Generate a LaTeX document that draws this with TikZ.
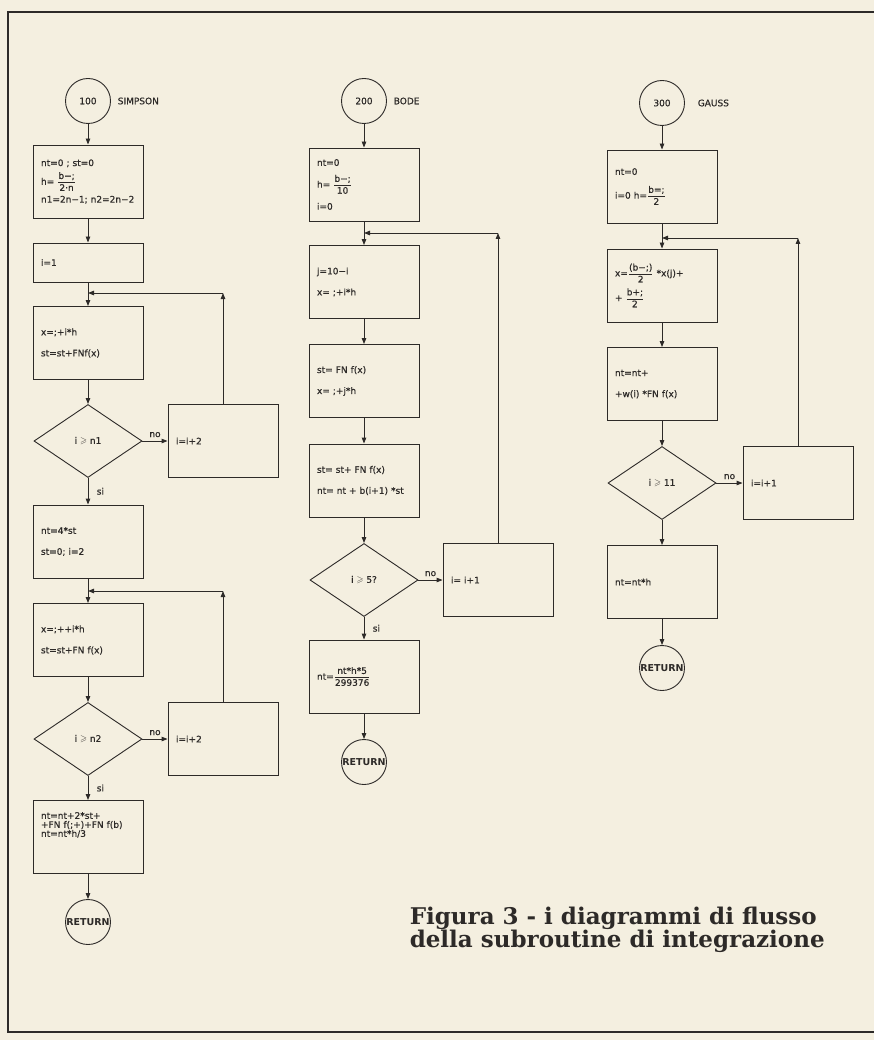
\documentclass[tikz,border=0pt]{standalone}
\usepackage{amsmath,amssymb}
\usepackage{fontspec}
\setmainfont{DejaVu Sans}[UprightFeatures={FakeBold=0.6}]
\newfontfamily\didascalia{DejaVu Serif}
\usetikzlibrary{shapes.geometric,arrows.meta}
\definecolor{carta}{RGB}{244,239,224}
\definecolor{tratto}{RGB}{45,42,40}
\newcommand{\fraz}[2]{$\dfrac{\text{#1}}{\text{#2}}$}

\begin{document}
\begin{tikzpicture}[x=1pt, y=-1pt, line width=0.9pt, color=tratto,
    every node/.style={font=\fontsize{9}{11}\selectfont},
    blocco/.style={draw, rectangle, minimum width=110pt, minimum height=73pt,
      text width=94pt, inner xsep=8pt, align=left},
    scelta/.style={draw, diamond, minimum width=108pt, minimum height=73pt, inner sep=0pt},
    cerchio/.style={draw, circle, minimum size=45pt, inner sep=0pt},
    fine/.style={cerchio, font=\bfseries\fontsize{9.5}{11}\selectfont},
    freccia/.style={-{Triangle[length=6pt,width=4.5pt]}}]
  \fill[carta] (0,0) rectangle (874,1040);
  \useasboundingbox (0,0) rectangle (874,1040);
  \draw[line width=1.4pt] (874,12) -- (8,12) -- (8,1032) -- (874,1032);

  \begin{scope}
    \node[cerchio] (s0) at (88,101) {100};
    \node[anchor=west] (s0n) at (114,101) {SIMPSON};
    \node[blocco] (s1) at (88,181.5) {nt=0 ; st=0\\[4pt] h= \fraz{b−;}{2·n}\\[4pt] n1=2n−1;~n2=2n−2};
    \node[blocco, minimum height=39pt] (s2) at (88,262.5) {i=1};
    \node[blocco] (s3) at (88,343) {x=;+i*h\\[10pt] st=st+FNf(x)};
    \node[scelta] (s4) at (88,441) {i $\geqslant$ n1};
    \node[blocco] (s5) at (223,441) {i=i+2};
    \node[blocco] (s6) at (88,541.5) {nt=4*st\\[10pt] st=0; i=2};
    \node[blocco] (s7) at (88,640) {x=;++i*h\\[10pt] st=st+FN f(x)};
    \node[scelta] (s8) at (88,739) {i $\geqslant$ n2};
    \node[blocco] (s9) at (223,739) {i=i+2};
    \node[blocco] (s10) at (88,837) {nt=nt+2*st+\\[-2pt] +FN f(;+)+FN f(b)\\[-2pt] nt=nt*h/3\\[14pt]~};
    \node[fine] (s11) at (88,922) {RETURN};
    \coordinate (js1) at (88,293);
    \coordinate (js1r) at (s5.north |- js1);
    \coordinate (js2) at (88,591);
    \coordinate (js2r) at (s9.north |- js2);
    \draw[freccia] (s0) -- (s1);
    \draw[freccia] (s1) -- (s2);
    \draw[freccia] (s2) -- (s3);
    \draw[freccia] (s3) -- (s4);
    \draw[freccia] (s4) -- node[above] (s4no) {no} (s5);
    \draw[freccia] (s4) -- node[right=5pt] (s4si) {si} (s6);
    \draw[freccia] (s5.north) -- (js1r);
    \draw[freccia] (js1r) -- (js1);
    \draw[freccia] (s6) -- (s7);
    \draw[freccia] (s7) -- (s8);
    \draw[freccia] (s8) -- node[above] (s8no) {no} (s9);
    \draw[freccia] (s8) -- node[right=5pt] (s8si) {si} (s10);
    \draw[freccia] (s9.north) -- (js2r);
    \draw[freccia] (js2r) -- (js2);
    \draw[freccia] (s10) -- (s11);
  \end{scope}

  \begin{scope}
    \node[cerchio] (b0) at (364,101) {200};
    \node[anchor=west] (b0n) at (390,101) {BODE};
    \node[blocco] (b1) at (364,184.5) {nt=0\\[8pt] h= \fraz{b−;}{10}\\[8pt] i=0};
    \node[blocco] (b2) at (364,282) {j=10−i\\[10pt] x= ;+i*h};
    \node[blocco] (b3) at (364,381) {st= FN f(x)\\[10pt] x= ;+j*h};
    \node[blocco] (b4) at (364,480.5) {st= st+ FN f(x)\\[10pt] nt= nt + b(i+1) *st};
    \node[scelta] (b5) at (364,580) {i $\geqslant$ 5?};
    \node[blocco] (b6) at (498,580) {i= i+1};
    \node[blocco] (b7) at (364,676.5) {nt=\fraz{nt*h*5}{299376}};
    \node[fine] (b8) at (364,762) {RETURN};
    \coordinate (jb) at (364,233);
    \coordinate (jbr) at (b6.north |- jb);
    \draw[freccia] (b0) -- (b1);
    \draw[freccia] (b1) -- (b2);
    \draw[freccia] (b2) -- (b3);
    \draw[freccia] (b3) -- (b4);
    \draw[freccia] (b4) -- (b5);
    \draw[freccia] (b5) -- node[above] (b5no) {no} (b6);
    \draw[freccia] (b5) -- node[right=5pt] (b5si) {si} (b7);
    \draw[freccia] (b6.north) -- (jbr);
    \draw[freccia] (jbr) -- (jb);
    \draw[freccia] (b7) -- (b8);
  \end{scope}

  \begin{scope}
    \node[cerchio] (g0) at (662,103) {300};
    \node[anchor=west] (g0n) at (694,103) {GAUSS};
    \node[blocco] (g1) at (662,186.5) {nt=0\\[10pt] i=0 h=\fraz{b=;}{2}};
    \node[blocco] (g2) at (662,285.5) {x=\fraz{(b−;)}{2} *x(j)+\\[5pt] + \fraz{b+;}{2}};
    \node[blocco] (g3) at (662,384) {nt=nt+\\[10pt] +w(i) *FN f(x)};
    \node[scelta] (g4) at (662,483) {i $\geqslant$ 11};
    \node[blocco] (g5) at (798,483) {i=i+1};
    \node[blocco] (g6) at (662,582) {nt=nt*h};
    \node[fine] (g7) at (662,668) {RETURN};
    \coordinate (jg) at (662,238);
    \coordinate (jgr) at (g5.north |- jg);
    \draw[freccia] (g0) -- (g1);
    \draw[freccia] (g1) -- (g2);
    \draw[freccia] (g2) -- (g3);
    \draw[freccia] (g3) -- (g4);
    \draw[freccia] (g4) -- node[above] (g4no) {no} (g5);
    \draw[freccia] (g4) -- (g6);
    \draw[freccia] (g5.north) -- (jgr);
    \draw[freccia] (jgr) -- (jg);
    \draw[freccia] (g6) -- (g7);
  \end{scope}

  \node[anchor=base west, font=\didascalia\bfseries\fontsize{23}{23}\selectfont] (fig1) at (406,924) {Figura 3 - i diagrammi di flusso};
  \node[anchor=base west, font=\didascalia\bfseries\fontsize{23}{23}\selectfont] (fig2) at (406,947) {della subroutine di integrazione};
\end{tikzpicture}
\end{document}
